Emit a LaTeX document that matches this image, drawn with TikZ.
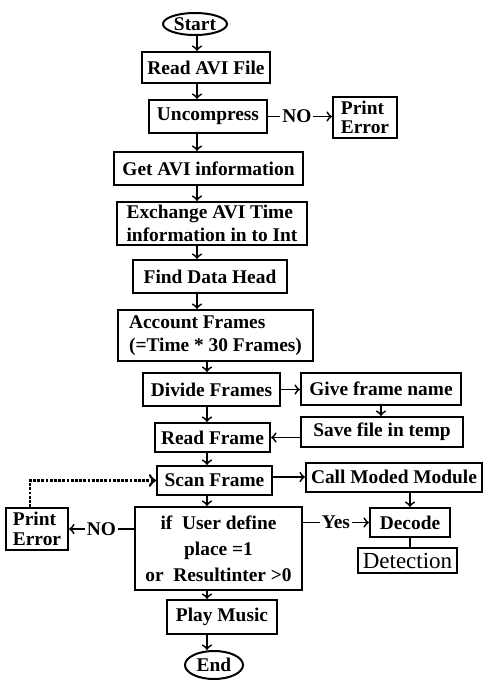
\documentclass[tikz,border=0pt]{standalone}
\usepackage{fontspec}
\setmainfont{Liberation Serif}
\usetikzlibrary{shapes,arrows,positioning,calc}

\begin{document}
\begin{tikzpicture}[x=0.5pt,y=-0.5pt,
    box/.style={draw, line width=1pt, inner sep=1pt, font=\fontsize{9.7}{11.2}\selectfont\bfseries},
    term/.style={draw, ellipse, line width=1pt, inner sep=0pt, font=\fontsize{9.7}{11.2}\selectfont\bfseries},
    arr/.style={line width=0.9pt, -to},
    lab/.style={fill=white, inner sep=1pt, font=\fontsize{9.7}{11.2}\selectfont\bfseries}]
\useasboundingbox (0,0) rectangle (485,681);
\coordinate (upx) at (197,0);
\coordinate (lowx) at (207,0);

\node[term, minimum width=32pt, minimum height=11pt] (start) at (195,24) {Start};
\node[box, minimum width=64pt, minimum height=15.5pt] (readavi) at (206,67.5) {Read AVI File};
\node[box, minimum width=59pt, minimum height=16.5pt] (uncomp) at (208,116.5) {Uncompress};
\node[box, minimum width=32pt, minimum height=20.5pt, align=left, font=\fontsize{9.7}{9.8}\selectfont\bfseries] (perr1) at (365,117.5) {Print\\Error};
\node[box, minimum width=94.5pt, minimum height=16.5pt] (getinfo) at (208.5,168.5) {Get AVI information};
\node[box, minimum width=95pt, minimum height=21.5pt, align=left] (exch) at (212,223.5) {Exchange AVI Time\\information in to Int};
\node[box, minimum width=77pt, minimum height=16.5pt] (finddata) at (210,276.5) {Find Data Head};
\node[box, minimum width=97.5pt, minimum height=25.5pt, align=left] (account) at (215.5,335.5) {Account Frames\\(=Time * 30 Frames)};
\node[box, minimum width=68.5pt, minimum height=16.5pt] (divide) at (211.5,389.5) {Divide Frames};
\node[box, minimum width=80pt, minimum height=16pt] (givename) at (381,389) {Give frame name};
\node[box, minimum width=81pt, minimum height=15pt] (savefile) at (382,432) {Save file in temp};
\node[box, minimum width=57.5pt, minimum height=14.5pt] (readframe) at (212.5,437.5) {Read Frame};
\node[box, minimum width=57.5pt, minimum height=14.5pt] (scanframe) at (214.5,480.5) {Scan Frame};
\node[box, minimum width=88pt, minimum height=14.5pt] (callmod) at (394,477) {Call Moded Module};
\node[box, minimum width=31pt, minimum height=21pt, align=left, font=\fontsize{9.7}{9.8}\selectfont\bfseries] (perr2) at (37,529) {Print\\Error};
\node[box, minimum width=83.5pt, minimum height=41.5pt, align=center, font=\fontsize{9.7}{13}\selectfont\bfseries] (ifbox) at (218.5,548.5) {if~~User define\\place =1\\or~~Resultinter >0};
\node[box, minimum width=40pt, minimum height=14.5pt] (decode) at (410,522.5) {Decode};
\node[box, minimum width=49.5pt, minimum height=12.5pt, font=\fontsize{11.5}{13}\selectfont] (detect) at (407.5,560.5) {Detection};
\node[box, minimum width=55pt, minimum height=17pt] (play) at (222,617) {Play Music};
\node[term, minimum width=29pt, minimum height=14pt] (end) at (214,665) {End};

\foreach \a/\b in {start/readavi, readavi/uncomp, uncomp/getinfo, getinfo/exch, exch/finddata, finddata/account}
  \draw[arr] (upx |- \a.south) -- (upx |- \b.north);
\foreach \a/\b in {account/divide, divide/readframe, readframe/scanframe, scanframe/ifbox, ifbox/play, play/end}
  \draw[arr] (lowx |- \a.south) -- (lowx |- \b.north);

\draw[arr] (uncomp.east) -- node[lab, pos=.45] {NO} (uncomp.east -| perr1.west);
\draw[arr] (divide.east) -- (divide.east -| givename.west);
\draw[arr] (givename.south) -- (givename.south |- savefile.north);
\draw[arr] (savefile.west |- readframe.east) -- (readframe.east);
\draw[arr] (scanframe.east |- callmod.west) -- (callmod.west);
\draw[arr] (callmod.south -| decode) -- (decode.north);
\draw[line width=0.9pt] (decode.south) -- (decode.south |- detect.north);
\draw[arr] (ifbox.east |- decode.west) -- node[lab] {Yes} (decode.west);
\draw[arr] (ifbox.west |- perr2.east) -- node[lab] {NO} (perr2.east);
\draw[arr, line width=1.3pt, dash pattern=on 1.4pt off 0.7pt] ([xshift=-3.5pt]perr2.north) |- (scanframe.west);
\end{tikzpicture}
\end{document}
